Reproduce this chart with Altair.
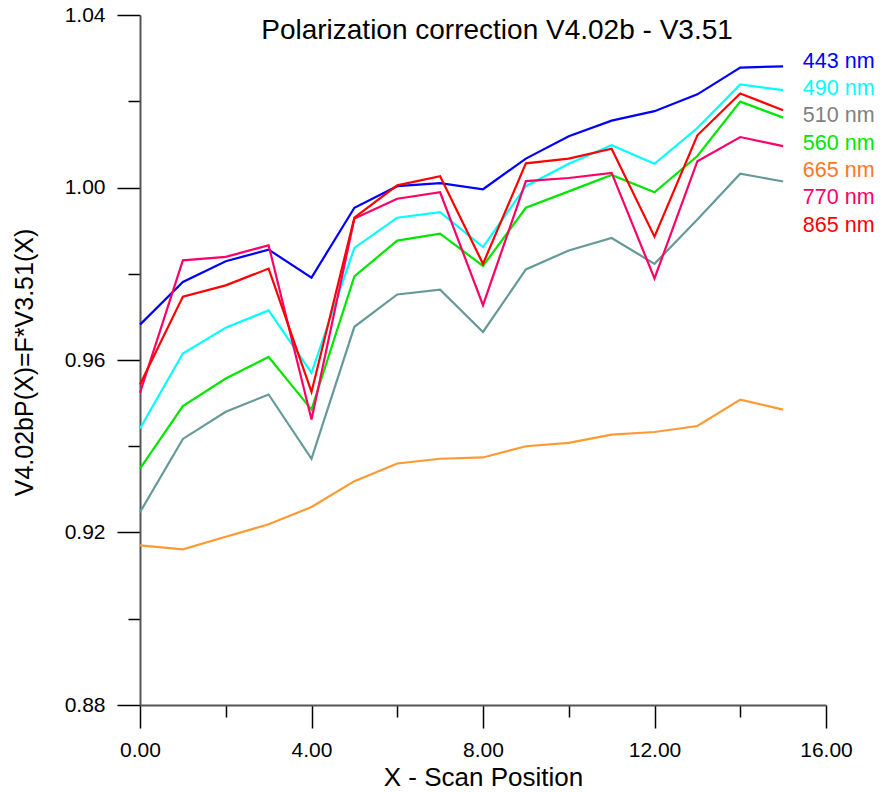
import altair as alt
import pandas as pd

# ---- data ----
SCAN_X = [0, 1, 2, 3, 4, 5, 6, 7, 8, 9, 10, 11, 12, 13, 14, 15]
SERIES = ["443 nm", "490 nm", "510 nm", "560 nm", "665 nm", "770 nm", "865 nm"]
B443 = [0.9682, 0.9781, 0.9829, 0.9856, 0.9791, 0.9953, 1.0003, 1.0010, 0.9996, 1.0067, 1.0119, 1.0155, 1.0177, 1.0216, 1.0278, 1.0281]
B490 = [0.9441, 0.9615, 0.9675, 0.9715, 0.9570, 0.9860, 0.9930, 0.9943, 0.9862, 1.0003, 1.0055, 1.0098, 1.0055, 1.0138, 1.0239, 1.0226]
B510 = [0.9247, 0.9417, 0.9480, 0.9520, 0.9371, 0.9677, 0.9752, 0.9763, 0.9665, 0.9810, 0.9854, 0.9883, 0.9823, 0.9926, 1.0032, 1.0014]
B560 = [0.9348, 0.9493, 0.9557, 0.9607, 0.9485, 0.9794, 0.9877, 0.9893, 0.9818, 0.9953, 0.9991, 1.0029, 0.9989, 1.0073, 1.0199, 1.0162]
B665 = [0.9170, 0.9161, 0.9190, 0.9219, 0.9259, 0.9319, 0.9360, 0.9371, 0.9374, 0.9400, 0.9408, 0.9427, 0.9433, 0.9447, 0.9508, 0.9485]
B770 = [0.9524, 0.9831, 0.9839, 0.9866, 0.9462, 0.9928, 0.9974, 0.9989, 0.9727, 1.0015, 1.0022, 1.0034, 0.9789, 1.0061, 1.0117, 1.0096]
B865 = [0.9543, 0.9747, 0.9773, 0.9812, 0.9526, 0.9930, 1.0005, 1.0026, 0.9823, 1.0056, 1.0067, 1.0090, 0.9886, 1.0121, 1.0218, 1.0179]
X_TICKS = [0, 2, 4, 6, 8, 10, 12, 14, 16]
Y_TICKS = [0.88, 0.90, 0.92, 0.94, 0.96, 0.98, 1.00, 1.02, 1.04]
TITLE = "Polarization correction V4.02b - V3.51"

# ---- styles ----
LINE_COLORS = ["#0000ff", "#00ffff", "#669999", "#00e600", "#ff9933", "#ff0066", "#ff0000"]
LABEL_COLORS = ["#0000ff", "#00ffff", "#808080", "#00e600", "#ff7722", "#ff0066", "#ff0000"]
FONT = "Liberation Sans"

values = [B443, B490, B510, B560, B665, B770, B865]
rows = []
for name, vals in zip(SERIES, values):
    for x, v in zip(SCAN_X, vals):
        rows.append({"x": x, "v": v, "series": name})
df = pd.DataFrame(rows)
lab = pd.DataFrame({"series": SERIES, "k": list(range(len(SERIES)))})

xscale = alt.Scale(domain=[0, 16], nice=False, zero=False)
yscale = alt.Scale(domain=[0.88, 1.04], nice=False, zero=False)

x_axis = alt.Axis(
    values=X_TICKS,
    labelExpr="datum.value % 4 == 0 ? format(datum.value, '.2f') : ''",
    tickSize={"condition": {"test": "datum.value % 4 == 0", "value": 23}, "value": 12},
    labelPadding=11, labelFont=FONT, labelFontSize=21, labelColor="black",
    labelFlush=False, labelOverlap=False,
    title="X - Scan Position", titleFont=FONT, titleFontSize=26, titleFontWeight="normal",
    titleColor="black", titleBaseline="alphabetic", titleY=80, titleX=343,
    grid=False, domainColor="#555555", domainWidth=2, tickColor="black", tickWidth=1.5,
)
y_axis = alt.Axis(
    values=Y_TICKS,
    labelExpr="round(datum.value * 100) % 4 == 0 ? format(datum.value, '.2f') : ''",
    tickSize={"condition": {"test": "round(datum.value * 100) % 4 == 0", "value": 23}, "value": 12},
    labelPadding=12, labelFont=FONT, labelFontSize=21, labelColor="black",
    labelFlush=False, labelOverlap=False, labelBaseline="middle",
    title="V4.02bP(X)=F*V3.51(X)", titleFont=FONT, titleFontSize=25, titleFontWeight="normal",
    titleColor="black", titleBaseline="alphabetic", titleAngle=270, titleX=-108, titleY=347,
    titleAlign="center",
    grid=False, domainColor="#555555", domainWidth=2, tickColor="black", tickWidth=1.5,
)

lines = alt.Chart(df).mark_line(strokeWidth=2.2, clip=False).encode(
    x=alt.X("x:Q", scale=xscale, axis=x_axis),
    y=alt.Y("v:Q", scale=yscale, axis=y_axis),
    color=alt.Color("series:N", scale=alt.Scale(domain=SERIES, range=LINE_COLORS), legend=None),
    detail="series:N",
)

labels = alt.Chart(lab).transform_calculate(
    ly="1.0292 - datum.k * 0.00634"
).mark_text(align="left", baseline="middle", font=FONT, fontSize=21.5).encode(
    x=alt.datum(15.46, scale=xscale),
    y=alt.Y("ly:Q", scale=yscale),
    text="series:N",
    color=alt.Color("series:N", scale=alt.Scale(domain=SERIES, range=LABEL_COLORS), legend=None),
)

title = alt.Chart(pd.DataFrame({"t": [TITLE]})).mark_text(
    align="center", baseline="alphabetic", font=FONT, fontSize=28, color="black"
).encode(
    x=alt.value(357),
    y=alt.value(24),
    text="t:N",
)

chart = alt.layer(lines, labels, title).resolve_scale(color="independent").properties(
    width=686,
    height=690,
    autosize=alt.AutoSizeParams(type="none"),
    padding={"left": 132, "top": 7, "right": 48, "bottom": 86},
).configure_view(stroke=None)

chart.save("out.html", embed_options={"renderer": "svg", "actions": False})
